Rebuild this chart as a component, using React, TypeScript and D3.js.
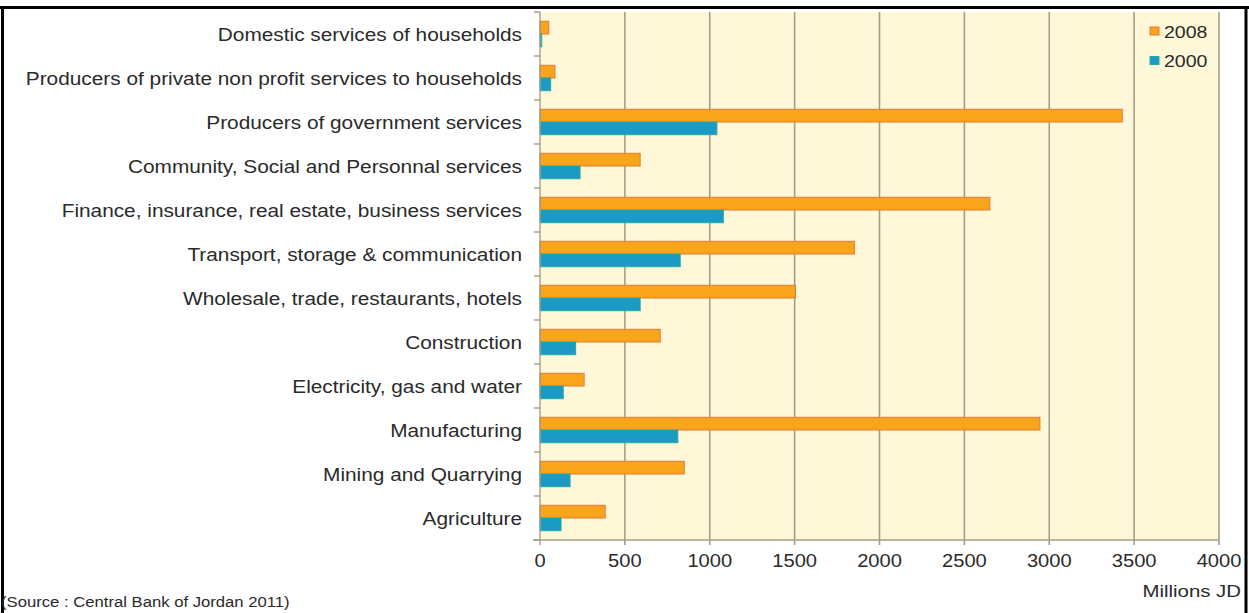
import React from "react";
import * as d3 from "d3";

const categories = [
  "Domestic services of households",
  "Producers of private non profit services to households",
  "Producers of government services",
  "Community, Social and Personnal services",
  "Finance, insurance, real estate, business services",
  "Transport, storage & communication",
  "Wholesale, trade, restaurants, hotels",
  "Construction",
  "Electricity, gas and water",
  "Manufacturing",
  "Mining and Quarrying",
  "Agriculture",
];
const values2008 = [52, 88, 3430, 590, 2650, 1852, 1505, 708, 260, 2945, 850, 384];
const values2000 = [10, 63, 1042, 236, 1080, 826, 590, 210, 137, 812, 177, 124];
const seriesNames = ["2008", "2000"];
const xTicks = [0, 500, 1000, 1500, 2000, 2500, 3000, 3500, 4000];

const W = 1249;
const H = 613;
const plot = { left: 540, right: 1219, top: 12, bottom: 540 };
const ORANGE = "#F8A51B";
const ORANGE_S = "#E4793A";
const BLUE = "#1B9AC3";
const BLUE_S = "#27ABA8";
const GRID = "#A39E8A";
const BG = "#FEF8D8";
const TXT = "#2a2a2a";
const FONT = "Liberation Sans, Arial, sans-serif";

function SText(props: { x: number; y: number; anchor?: string; size?: number; sx?: number; children: React.ReactNode }) {
  const { x, y, anchor = "start", size = 17, sx = 1.15, children } = props;
  return (
    <text
      transform={`translate(${x},${y}) scale(${sx},1)`}
      textAnchor={anchor as any}
      fontFamily={FONT}
      fontSize={size}
      fill={TXT}
    >
      {children}
    </text>
  );
}

export default function App() {
  const x = d3.scaleLinear().domain([0, 4000]).range([plot.left, plot.right]);
  const y = d3.scaleBand<string>().domain(categories).range([plot.top, plot.bottom]).padding(0);
  const bw = y.bandwidth();
  const barH = 12.7;
  const off = (bw - 2 * barH) / 2;
  const boundaries = d3.range(categories.length + 1).map((i) => plot.top + i * bw);

  return (
    <svg width={W} height={H} style={{ position: "absolute", left: 0, top: 0, background: "#fff" }}>
      {/* frame */}
      <line x1={0} x2={W} y1={7.5} y2={7.5} stroke="#000" strokeWidth={3} />
      <line x1={2.5} x2={2.5} y1={6} y2={H} stroke="#000" strokeWidth={3} />
      <line x1={1246} x2={1246} y1={6} y2={H} stroke="#000" strokeWidth={3} />

      {/* plot background */}
      <rect x={plot.left} y={plot.top} width={plot.right - plot.left} height={plot.bottom - plot.top} fill={BG} />

      {/* gridlines */}
      {xTicks.slice(1).map((t) => (
        <line key={"g" + t} x1={x(t)} x2={x(t)} y1={plot.top} y2={plot.bottom + 5} stroke={GRID} strokeWidth={1.6} />
      ))}

      {/* bars */}
      {categories.map((c, i) => {
        const y0 = (y(c) as number) + off;
        return (
          <g key={c}>
            <rect x={x(0)} y={y0} width={x(values2008[i]) - x(0)} height={barH} fill={ORANGE} stroke={ORANGE_S} strokeWidth={1} />
            <rect x={x(0)} y={y0 + barH} width={x(values2000[i]) - x(0)} height={barH} fill={BLUE} stroke={BLUE_S} strokeWidth={1} />
          </g>
        );
      })}

      {/* axes */}
      <line x1={plot.left} x2={plot.left} y1={plot.top} y2={plot.bottom + 5} stroke={GRID} strokeWidth={1.4} />
      <line x1={plot.left - 7} x2={plot.right} y1={plot.bottom} y2={plot.bottom} stroke={GRID} strokeWidth={1.4} />
      {boundaries.map((b, i) => (
        <line key={"yt" + i} x1={plot.left - 6} x2={plot.left} y1={b} y2={b} stroke={GRID} strokeWidth={1.4} />
      ))}

      {/* category labels */}
      {categories.map((c) => (
        <SText key={"l" + c} x={522} y={(y(c) as number) + bw / 2 + 7} anchor="end" size={17.5} sx={1.19}>
          {c}
        </SText>
      ))}

      {/* x tick labels */}
      {xTicks.map((t) => (
        <SText key={"xt" + t} x={x(t)} y={567} anchor="middle" size={17.5} sx={1.15}>
          {String(t)}
        </SText>
      ))}

      <SText x={1241} y={597} anchor="end" size={17} sx={1.2}>
        Millions JD
      </SText>
      <SText x={1} y={607} anchor="start" size={14.5} sx={1.15}>
        (Source : Central Bank of Jordan 2011)
      </SText>

      {/* legend */}
      {seriesNames.map((s, i) => (
        <g key={"lg" + s}>
          <rect x={1150} y={27 + i * 29.5} width={9} height={8} fill={i === 0 ? ORANGE : BLUE} stroke={i === 0 ? ORANGE_S : BLUE_S} strokeWidth={1} />
          <SText x={1164} y={37.5 + i * 29.5} anchor="start" size={17} sx={1.15}>
            {s}
          </SText>
        </g>
      ))}
    </svg>
  );
}
